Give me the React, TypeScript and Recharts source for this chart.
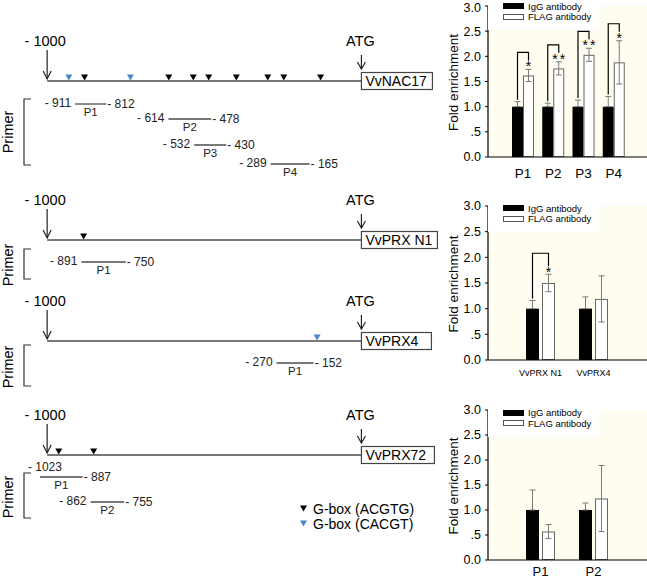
import React from 'react';
import {
  BarChart, Bar, XAxis, YAxis, ErrorBar, CartesianGrid, Legend,
  ScatterChart, Scatter, ReferenceLine,
} from 'recharts';

const FONT = '"Liberation Sans", Arial, Helvetica, sans-serif';
const LINE_GREY = '#4d4d4d';
const BLUE = '#4a86c8';
const CREAM = '#fffdf0';
const ERR_GREY = '#7a7a7a';

// ---------- promoter diagrams (positions in bp relative to ATG) ----------
const UPSTREAM = -1000;
const ATG = 0;

const nac17GboxACGTG = [-881, -613, -535, -486, -398, -298, -247, -130];
const nac17GboxCACGT = [-931, -735];
const nac17PrimerNames = ['P1', 'P2', 'P3', 'P4'];
const nac17PrimerStart = [-911, -614, -532, -289];
const nac17PrimerEnd = [-812, -478, -430, -165];

const prxN1GboxACGTG = [-884];
const prxN1GboxCACGT: number[] = [];
const prxN1PrimerNames = ['P1'];
const prxN1PrimerStart = [-891];
const prxN1PrimerEnd = [-750];

const prx4GboxACGTG: number[] = [];
const prx4GboxCACGT = [-141];
const prx4PrimerNames = ['P1'];
const prx4PrimerStart = [-270];
const prx4PrimerEnd = [-152];

const prx72GboxACGTG = [-963, -852];
const prx72GboxCACGT: number[] = [];
const prx72PrimerNames = ['P1', 'P2'];
const prx72PrimerStart = [-1023, -862];
const prx72PrimerEnd = [-887, -755];

const gboxLegendLabels = ['G-box (ACGTG)', 'G-box (CACGT)'];

// ---------- ChIP-qPCR enrichment ----------
const chart1Categories = ['P1', 'P2', 'P3', 'P4'];
const chart1IgG = [1.0, 1.0, 1.0, 1.0];
const chart1IgGErr = [0.1, 0.07, 0.13, 0.2];
const chart1Flag = [1.62, 1.76, 2.03, 1.88];
const chart1FlagErr = [0.12, 0.13, 0.13, 0.43];
const chart1Sig = ['*', '**', '**', '*'];

const chart2Categories = ['VvPRX N1', 'VvPRX4'];
const chart2IgG = [1.0, 1.0];
const chart2IgGErr = [0.16, 0.23];
const chart2Flag = [1.5, 1.19];
const chart2FlagErr = [0.17, 0.45];
const chart2Sig = ['*', ''];

const chart3Categories = ['P1', 'P2'];
const chart3IgG = [1.0, 1.0];
const chart3IgGErr = [0.4, 0.14];
const chart3Flag = [0.57, 1.23];
const chart3FlagErr = [0.14, 0.66];
const chart3Sig = ['', ''];

const yTicks = [0, 0.5, 1, 1.5, 2, 2.5, 3];
const legendLabels = ['IgG antibody', 'FLAG antibody'];

// ---------- layout ----------
const BP_DOMAIN: [number, number] = [-1150, 250];
const DIAGRAM_W = 440;
const LINE_Y = 55;

const fmtPos = (v: number) => `- ${Math.abs(v)}`;
const fmtTick = (v: number) => (v === 0.5 ? '.5' : v.toFixed(1));

type PanelCfg = {
  key: string; gene: string; top: number; height: number; boxW: number;
  acgtg: number[]; cacgt: number[]; names: string[]; starts: number[]; ends: number[];
  rows: number[]; bracket: [number, number]; primerLabel: number; firstStartAbove?: boolean;
};

const PANELS: PanelCfg[] = [
  { key: 'nac17', gene: 'VvNAC17', top: 26, height: 160, boxW: 71, acgtg: nac17GboxACGTG, cacgt: nac17GboxCACGT,
    names: nac17PrimerNames, starts: nac17PrimerStart, ends: nac17PrimerEnd, rows: [23, 38, 64, 83], bracket: [18, 84], primerLabel: 51 },
  { key: 'n1', gene: 'VvPRX N1', top: 185, height: 100, boxW: 76, acgtg: prxN1GboxACGTG, cacgt: prxN1GboxCACGT,
    names: prxN1PrimerNames, starts: prxN1PrimerStart, ends: prxN1PrimerEnd, rows: [22], bracket: [9, 39], primerLabel: 25 },
  { key: 'prx4', gene: 'VvPRX4', top: 286, height: 110, boxW: 70, acgtg: prx4GboxACGTG, cacgt: prx4GboxCACGT,
    names: prx4PrimerNames, starts: prx4PrimerStart, ends: prx4PrimerEnd, rows: [22], bracket: [4, 45], primerLabel: 26 },
  { key: 'prx72', gene: 'VvPRX72', top: 400, height: 140, boxW: 73, acgtg: prx72GboxACGTG, cacgt: prx72GboxCACGT,
    names: prx72PrimerNames, starts: prx72PrimerStart, ends: prx72PrimerEnd, rows: [22, 47], bracket: [18, 63], primerLabel: 42, firstStartAbove: true },
];

const triPoints = (cx: number, cy: number) =>
  `${cx - 3.5},${cy - 6.5} ${cx + 3.5},${cy - 6.5} ${cx},${cy - 0.5}`;

const triangleShape = (color: string) => (props: any) => (
  <polygon points={triPoints(props.cx, props.cy)} fill={color} />
);

const upstreamShape = (props: any) => {
  const { cx, cy } = props;
  return (
    <g>
      <text x={cx - 2} y={cy - 35} textAnchor="middle" fontSize={14.5} fontFamily={FONT} fill="#000">{fmtPos(UPSTREAM)}</text>
      <line x1={cx} y1={cy - 31} x2={cx} y2={cy - 2} stroke="#222" strokeWidth={1.2} />
      <path d={`M${cx - 4},${cy - 10} L${cx},${cy - 2} L${cx + 4},${cy - 10}`} fill="none" stroke="#222" strokeWidth={1.2} />
    </g>
  );
};

const atgShape = (gene: string, boxW: number) => (props: any) => {
  const { cx, cy } = props;
  return (
    <g>
      <text x={cx - 1} y={cy - 35} textAnchor="middle" fontSize={14.5} fontFamily={FONT} fill="#000">ATG</text>
      <line x1={cx} y1={cy - 26} x2={cx} y2={cy - 12} stroke="#222" strokeWidth={1.2} />
      <path d={`M${cx - 4},${cy - 19} L${cx},${cy - 12} L${cx + 4},${cy - 19}`} fill="none" stroke="#222" strokeWidth={1.2} />
      <rect x={cx} y={cy - 8.5} width={boxW} height={17} fill="#fff" stroke="#444" strokeWidth={1.2} />
      <text x={cx + 4} y={cy + 5} fontSize={14} fontFamily={FONT} fill="#000">{gene}</text>
    </g>
  );
};

const startLabelShape = (props: any) => {
  const { cx, cy, payload } = props;
  if (payload.above) {
    return <text x={cx - 12} y={cy - 6.5} fontSize={12} fontFamily={FONT} fill="#222">{payload.label}</text>;
  }
  return <text x={cx - 4} y={cy + 3} textAnchor="end" fontSize={12} fontFamily={FONT} fill="#222">{payload.label}</text>;
};

const endLabelShape = (props: any) => {
  const { cx, cy, payload } = props;
  return <text x={cx + 1} y={cy + 3.5} fontSize={12} fontFamily={FONT} fill="#222">{payload.label}</text>;
};

const nameShape = (props: any) => {
  const { cx, cy, payload } = props;
  return <text x={cx} y={cy + 11.5} textAnchor="middle" fontSize={11.5} fontFamily={FONT} fill="#222">{payload.label}</text>;
};

function PromoterPanel({ p }: { p: PanelCfg }) {
  const primers = p.names.map((n, i) => ({ name: n, start: p.starts[i], end: p.ends[i], y: LINE_Y + p.rows[i], i }));
  const startPts = primers.map((d) => ({ x: d.start, y: d.y, label: fmtPos(d.start), above: !!p.firstStartAbove && d.i === 0 }));
  const endPts = primers.map((d) => ({ x: d.end, y: d.y, label: fmtPos(d.end) }));
  const namePts = primers.map((d) => ({ x: (d.start + d.end) / 2, y: d.y, label: d.name }));
  return (
    <div style={{ position: 'absolute', left: 0, top: p.top, width: DIAGRAM_W, height: p.height }}>
      <ScatterChart width={DIAGRAM_W} height={p.height} margin={{ top: 0, right: 0, bottom: 0, left: 0 }}>
        <XAxis type="number" dataKey="x" domain={BP_DOMAIN} allowDataOverflow hide />
        <YAxis type="number" dataKey="y" domain={[0, p.height]} reversed allowDataOverflow hide />
        <ReferenceLine segment={[{ x: UPSTREAM, y: LINE_Y }, { x: ATG, y: LINE_Y }]} stroke={LINE_GREY} strokeWidth={1.5} />
        {primers.map((d) => (
          <ReferenceLine key={d.name} segment={[{ x: d.start, y: d.y }, { x: d.end, y: d.y }]} stroke={LINE_GREY} strokeWidth={1.3} />
        ))}
        <Scatter data={[{ x: UPSTREAM, y: LINE_Y }]} shape={upstreamShape} isAnimationActive={false} />
        <Scatter data={[{ x: ATG, y: LINE_Y }]} shape={atgShape(p.gene, p.boxW)} isAnimationActive={false} />
        <Scatter data={p.acgtg.map((x) => ({ x, y: LINE_Y }))} shape={triangleShape('#000')} isAnimationActive={false} />
        <Scatter data={p.cacgt.map((x) => ({ x, y: LINE_Y }))} shape={triangleShape(BLUE)} isAnimationActive={false} />
        <Scatter data={startPts} shape={startLabelShape} isAnimationActive={false} />
        <Scatter data={endPts} shape={endLabelShape} isAnimationActive={false} />
        <Scatter data={namePts} shape={nameShape} isAnimationActive={false} />
      </ScatterChart>
    </div>
  );
}

// ---------- bar charts ----------
const YLabel = (props: any) => {
  const vb = props.viewBox || { x: 0, y: 0, width: 88, height: 150 };
  const cx = vb.x + 53;
  const cy = vb.y + vb.height / 2 + 1;
  return (
    <text transform={`translate(${cx},${cy}) rotate(-90)`} textAnchor="middle" dominantBaseline="central"
      fontSize={13.5} fontFamily={FONT} fill="#000">Fold enrichment</text>
  );
};

const BarLegend = () => (
  <div style={{ position: 'relative', width: 112, height: 30, background: '#fff', fontFamily: FONT, fontSize: 9.5, color: '#000' }}>
    <div style={{ position: 'absolute', left: 15, top: 3, width: 21, height: 6, background: '#000' }} />
    <div style={{ position: 'absolute', left: 40, top: 0.5, lineHeight: '11px', whiteSpace: 'nowrap' }}>{legendLabels[0]}</div>
    <div style={{ position: 'absolute', left: 15, top: 13.5, width: 21, height: 6, background: '#fff', border: '1px solid #555', boxSizing: 'border-box' }} />
    <div style={{ position: 'absolute', left: 40, top: 11, lineHeight: '11px', whiteSpace: 'nowrap' }}>{legendLabels[1]}</div>
  </div>
);

type ChartCfg = {
  top: number; height: number; plotTop: number; plotH: number; legendTop: number;
  categories: string[]; igg: number[]; iggErr: number[]; flag: number[]; flagErr: number[]; sig: string[];
  barSize: number; barGap: number; padding: { left: number; right: number };
  xFont: number; xMargin: number; legGap: number; legLen: number;
};

const makeFlagShape = (gap: number, legGap: number, legLen: number) => (props: any) => {
  const { x, y, width, height, payload } = props;
  const zeroY = y + height;
  const ppu = payload.flag ? height / payload.flag : 0;
  const toY = (v: number) => zeroY - v * ppu;
  const out: any[] = [
    <rect key="r" x={x + 0.5} y={y + 0.5} width={Math.max(0, width - 1)} height={Math.max(0, height - 1)} fill="#fff" stroke="#666" strokeWidth={1} />,
  ];
  if (payload.sig) {
    const leftX = x - gap - width / 2;
    const rightX = x + width / 2;
    const flagTop = toY(payload.flag + payload.flagErr);
    const iggTop = toY(payload.igg + payload.iggErrVal);
    const legBottom = flagTop - legGap;
    const barTop = legBottom - legLen;
    out.push(
      <path key="b" d={`M${leftX},${iggTop - 2} V${barTop} H${rightX} V${legBottom}`} fill="none" stroke="#000" strokeWidth={1.2} />,
    );
    out.push(
      <text key="s" x={rightX + (payload.sig.length > 1 ? 1 : 0)} y={legBottom + 11} textAnchor="middle" fontSize={14} fontFamily={FONT}
        letterSpacing={payload.sig.length > 1 ? 2 : 0} fill="#000">{payload.sig}</text>,
    );
  }
  return <g>{out}</g>;
};

function EnrichmentChart({ c }: { c: ChartCfg }) {
  const data = c.categories.map((cat, i) => ({
    cat,
    igg: c.igg[i],
    iggErr: [0, c.iggErr[i]],
    iggErrVal: c.iggErr[i],
    flag: c.flag[i],
    flagErr: c.flagErr[i],
    sig: c.sig[i],
  }));
  const xAxisH = c.height - c.plotTop - c.plotH;
  return (
    <div style={{ position: 'absolute', left: 400, top: c.top, width: 247, height: c.height }}>
      <BarChart width={247} height={c.height} data={data} margin={{ top: c.plotTop, right: 0, bottom: 0, left: 0 }}
        barSize={c.barSize} barGap={c.barGap}>
        <CartesianGrid horizontal={false} vertical={false} fill={CREAM} stroke="none" />
        <XAxis dataKey="cat" height={xAxisH} padding={c.padding} axisLine={{ stroke: '#000', strokeWidth: 1.2 }} tickLine={false}
          tickSize={6} tickMargin={c.xMargin} interval={0}
          tick={{ fill: '#000', fontSize: c.xFont, fontFamily: FONT }} />
        <YAxis width={88} domain={[0, 3]} ticks={yTicks} tickFormatter={fmtTick} allowDataOverflow
          tickSize={3} tickMargin={4} axisLine={{ stroke: '#000', strokeWidth: 1.2 }} tickLine={{ stroke: '#000' }}
          tick={{ fill: '#000', fontSize: 12.5, fontFamily: FONT }} label={<YLabel />} />
        <Legend layout="vertical" verticalAlign="middle" align="center" content={() => <BarLegend />}
          wrapperStyle={{ left: 88, top: c.legendTop, width: 112, height: 30 }} />
        <Bar dataKey="igg" fill="#000" isAnimationActive={false}>
          <ErrorBar dataKey="iggErr" width={3} stroke={ERR_GREY} strokeWidth={1} direction="y" />
        </Bar>
        <Bar dataKey="flag" fill="#fff" stroke="#666" isAnimationActive={false} shape={makeFlagShape(c.barGap, c.legGap, c.legLen)}>
          <ErrorBar dataKey="flagErr" width={3} stroke={ERR_GREY} strokeWidth={1} direction="y" />
        </Bar>
      </BarChart>
    </div>
  );
}

const CHARTS: ChartCfg[] = [
  { top: 0, height: 185, plotTop: 6, plotH: 151, legendTop: 0, categories: chart1Categories, igg: chart1IgG, iggErr: chart1IgGErr,
    flag: chart1Flag, flagErr: chart1FlagErr, sig: chart1Sig, barSize: 11, barGap: 0, padding: { left: 20, right: 18 },
    xFont: 13.5, xMargin: 5, legGap: 9, legLen: 8 },
  { top: 190, height: 190, plotTop: 16, plotH: 154, legendTop: 12, categories: chart2Categories, igg: chart2IgG, iggErr: chart2IgGErr,
    flag: chart2Flag, flagErr: chart2FlagErr, sig: chart2Sig, barSize: 13, barGap: 3, padding: { left: 26, right: 27 },
    xFont: 9, xMargin: 3.5, legGap: 8, legLen: 13 },
  { top: 400, height: 179, plotTop: 10, plotH: 150, legendTop: 6.5, categories: chart3Categories, igg: chart3IgG, iggErr: chart3IgGErr,
    flag: chart3Flag, flagErr: chart3FlagErr, sig: chart3Sig, barSize: 13, barGap: 3, padding: { left: 26, right: 27 },
    xFont: 13, xMargin: 0.5, legGap: 8, legLen: 8 },
];

function Annotations() {
  return (
    <svg style={{ position: 'absolute', left: 0, top: 0 }} width={DIAGRAM_W} height={579}>
      {PANELS.map((p) => {
        const ly = p.top + LINE_Y;
        const y0 = ly + p.bracket[0];
        const y1 = ly + p.bracket[1];
        const cy = ly + p.primerLabel;
        return (
          <g key={p.key}>
            <path d={`M31,${y0} H24 V${y1} H31`} fill="none" stroke="#333" strokeWidth={1.2} />
            <text transform={`translate(8,${cy}) rotate(-90)`} textAnchor="middle" dominantBaseline="central"
              fontSize={14.5} fontFamily={FONT} fill="#000">Primer</text>
          </g>
        );
      })}
      {gboxLegendLabels.map((lab, i) => {
        const cy = 508.5 + i * 15;
        return (
          <g key={lab}>
            <polygon points={triPoints(303.5, cy + 3.5)} fill={i === 0 ? '#000' : BLUE} />
            <text x={313} y={cy + 5} fontSize={14} fontFamily={FONT} fill="#000">{lab}</text>
          </g>
        );
      })}
    </svg>
  );
}

export default function App() {
  return (
    <div style={{ position: 'absolute', left: 0, top: 0, width: 647, height: 579, background: '#fff', overflow: 'hidden', fontFamily: FONT }}>
      <Annotations />
      {PANELS.map((p) => <PromoterPanel key={p.key} p={p} />)}
      {CHARTS.map((c, i) => <EnrichmentChart key={i} c={c} />)}
    </div>
  );
}
